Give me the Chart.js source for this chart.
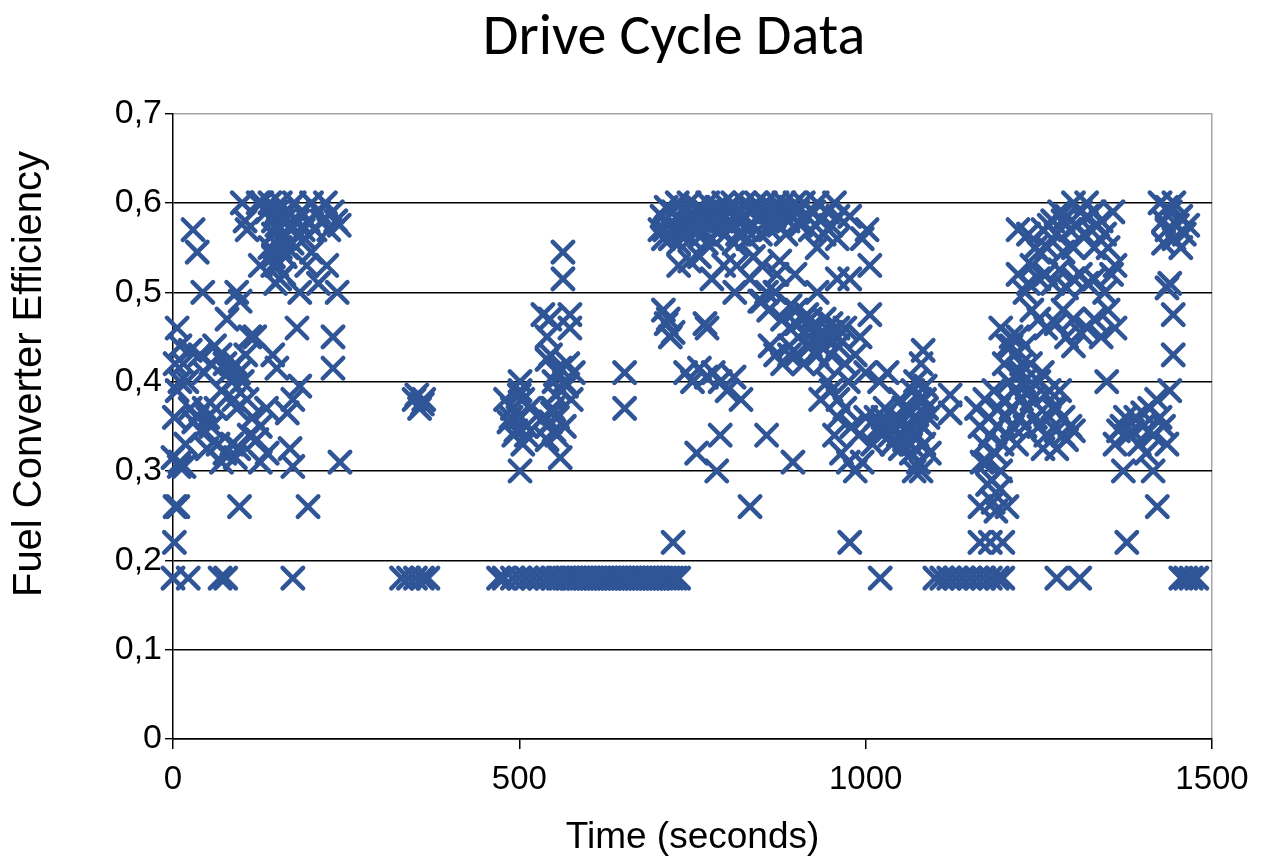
<!DOCTYPE html>
<html>
<head>
<meta charset="utf-8">
<title>Drive Cycle Data</title>
<script src="https://cdn.jsdelivr.net/npm/chart.js@4.4.1/dist/chart.umd.min.js"></script>
<style>
  html, body { margin: 0; padding: 0; background: #fff; }
  #wrap { width: 1261px; height: 861px; }
</style>
</head>
<body>
<div id="wrap"><canvas id="myChart"></canvas></div>
<script>
// idle samples sitting on the 0.18 floor
var idleTime = [
    0, 22, 68, 76, 173, 330, 340, 350, 360, 368,
    470, 478, 490, 500, 510, 520, 530, 540, 548, 556,
    565, 570, 575, 580, 585, 590, 595, 600, 605, 610,
    615, 620, 625, 630, 635, 640, 645, 650, 655, 660,
    665, 670, 675, 680, 685, 690, 695, 700, 705, 710,
    715, 720, 725, 730, 1021, 1100, 1110, 1120, 1130, 1140,
    1150, 1160, 1170, 1180, 1190, 1198, 1276, 1309, 1455, 1462,
    1470, 1478
];
var idleEff = [
    0.18, 0.18, 0.18, 0.18, 0.18, 0.18, 0.18, 0.18, 0.18, 0.18,
    0.18, 0.18, 0.18, 0.18, 0.18, 0.18, 0.18, 0.18, 0.18, 0.18,
    0.18, 0.18, 0.18, 0.18, 0.18, 0.18, 0.18, 0.18, 0.18, 0.18,
    0.18, 0.18, 0.18, 0.18, 0.18, 0.18, 0.18, 0.18, 0.18, 0.18,
    0.18, 0.18, 0.18, 0.18, 0.18, 0.18, 0.18, 0.18, 0.18, 0.18,
    0.18, 0.18, 0.18, 0.18, 0.18, 0.18, 0.18, 0.18, 0.18, 0.18,
    0.18, 0.18, 0.18, 0.18, 0.18, 0.18, 0.18, 0.18, 0.18, 0.18,
    0.18, 0.18
];

// everything else, time (s) and efficiency in the same order
var timeSec = [
    2, 3, 7, 9, 16, 96, 195,
    0, 10, 6, 10, 25, 39, 10, 6, 3, 2,
    29, 35, 43, 78, 68, 75, 80, 85, 90, 95,
    100, 70, 88, 105, 25, 35, 45, 55, 40, 30,
    50, 62, 92, 107, 126, 121, 65, 75, 85, 90,
    70, 95, 49, 136, 126, 173, 183, 165, 169, 173,
    179, 231, 231, 144, 150, 111, 241, 92, 97, 126,
    144, 154, 193, 222, 237, 183, 140, 145, 150, 155,
    160, 148, 162, 158, 152, 165, 100, 104, 128, 135,
    140, 145, 150, 155, 160, 165, 170, 175, 180, 185,
    190, 195, 200, 205, 210, 215, 220, 225, 230, 235,
    240, 158, 172, 188, 150, 145, 107, 123, 118, 60,
    15, 20, 18, 55, 45, 115, 110, 135, 200, 210,
    352, 360, 356, 348, 362,
    501, 501, 480, 490, 500, 510, 495, 485, 505, 492,
    515, 500, 488, 510, 501, 563, 563, 534, 573, 544,
    573, 540, 559, 545, 550, 555, 560, 565, 570, 575,
    568, 552, 578, 548, 540, 554, 559, 535, 545, 550,
    540, 555, 565, 548, 540, 652, 652, 722, 498, 505,
    703, 706, 708, 712, 715, 718, 722, 725, 728, 732,
    735, 738, 742, 745, 748, 752, 755, 758, 762, 765,
    768, 772, 775, 778, 782, 785, 788, 792, 795, 798,
    802, 805, 808, 812, 815, 818, 822, 825, 828, 832,
    835, 838, 842, 845, 848, 852, 855, 858, 862, 865,
    868, 872, 875, 878, 882, 885, 888, 892, 895, 898,
    902, 906, 910, 915, 920, 925, 930, 935, 940, 945,
    950, 955, 960, 710, 730, 750, 770, 790, 810, 830,
    746, 778, 811, 833, 850, 876, 898, 869, 847, 730,
    760, 795, 814, 838, 872, 857, 891, 915, 930, 959,
    977, 1006, 1006, 1002, 959, 930, 708, 712, 718, 715,
    722, 771, 740, 750, 760, 770, 780, 790, 800, 810,
    820, 790, 756, 785, 857, 895, 833, 977, 768,
    862, 870, 880, 890, 890, 900, 910, 920, 930, 940,
    950, 960, 970, 985, 1000, 850, 860, 870, 880, 890,
    900, 910, 920, 930, 940, 950, 960, 945, 900, 910,
    920, 930, 940, 950, 960, 970, 950, 960, 970, 980,
    990, 1000, 1010, 975, 985, 965, 995, 955, 1020, 945,
    935, 975, 960, 915, 935, 977, 995, 992, 1031, 1020,
    1015, 1022, 1028, 1033, 1038, 1042, 1047, 1050, 1053, 1056,
    1060, 1063, 1066, 1068, 1070, 1072, 1074, 1076, 1078, 1080,
    1082, 1084, 1086, 1088, 1083, 1070, 1080, 1090, 1092, 1060,
    1045, 1035, 1025, 1030, 1040, 1050, 1055, 1065, 1075, 1085,
    1122, 1122, 1184,
    1165, 1204, 1165, 1198, 1180, 1188, 1160, 1165, 1170, 1172,
    1175, 1178, 1180, 1182, 1185, 1187, 1190, 1192, 1195, 1197,
    1200, 1202, 1205, 1207, 1210, 1212, 1215, 1218, 1220, 1222,
    1225, 1228, 1230, 1233, 1235, 1168, 1176, 1194, 1200, 1210,
    1220, 1215, 1225, 1250, 1260, 1270, 1280, 1265, 1250, 1260,
    1275, 1285, 1295, 1300, 1290, 1276, 1256, 1240, 1245, 1238,
    1220, 1235, 1256, 1265, 1275, 1285, 1295, 1305, 1315, 1325,
    1335, 1345, 1300, 1310, 1290, 1280, 1320, 1330, 1270, 1340,
    1319, 1357, 1220, 1235, 1250, 1260, 1270, 1280, 1290, 1300,
    1310, 1320, 1330, 1345, 1355, 1240, 1250, 1260, 1275, 1285,
    1300, 1310, 1320, 1330, 1340, 1350, 1360, 1300, 1290, 1195,
    1205, 1215, 1225, 1210, 1230, 1255, 1265, 1275, 1285, 1348,
    1230, 1240, 1245, 1250, 1262, 1285, 1300, 1330, 1350, 1360,
    1360, 1370, 1380, 1390, 1400, 1410, 1420, 1425, 1415, 1395,
    1405, 1385, 1375, 1430, 1435, 1372, 1415, 1377, 1421, 1439,
    1425, 1430, 1435, 1440, 1445, 1450, 1455, 1460, 1430, 1445,
    1455, 1465, 1435, 1439, 1444, 1444, 1435, 1400, 1410, 1365
];
var efficiency = [
    0.22, 0.26, 0.26, 0.305, 0.305, 0.26, 0.26,
    0.315, 0.31, 0.46, 0.44, 0.435, 0.43, 0.40, 0.39, 0.42, 0.36,
    0.57, 0.545, 0.50, 0.47, 0.43, 0.42, 0.41, 0.40, 0.42, 0.41,
    0.40, 0.39, 0.38, 0.43, 0.37, 0.36, 0.37, 0.35, 0.345, 0.355,
    0.36, 0.37, 0.37, 0.38, 0.35, 0.335, 0.33, 0.32, 0.33, 0.315,
    0.31, 0.325, 0.325, 0.32, 0.31, 0.38, 0.395, 0.365, 0.325, 0.305,
    0.46, 0.45, 0.415, 0.43, 0.415, 0.45, 0.31, 0.50, 0.49, 0.53,
    0.53, 0.515, 0.53, 0.53, 0.50, 0.50, 0.55, 0.54, 0.53, 0.55,
    0.52, 0.51, 0.54, 0.56, 0.57, 0.55, 0.60, 0.58, 0.60, 0.59,
    0.60, 0.58, 0.59, 0.60, 0.58, 0.59, 0.57, 0.60, 0.58, 0.59,
    0.56, 0.58, 0.60, 0.57, 0.59, 0.58, 0.60, 0.57, 0.59, 0.58,
    0.575, 0.565, 0.555, 0.57, 0.575, 0.565, 0.57, 0.60, 0.45, 0.44,
    0.42, 0.40, 0.33, 0.42, 0.41, 0.36, 0.34, 0.37, 0.545, 0.51,
    0.385, 0.375, 0.37, 0.38, 0.38,
    0.40, 0.39, 0.38, 0.37, 0.36, 0.35, 0.345, 0.355, 0.33, 0.34,
    0.37, 0.385, 0.36, 0.34, 0.30, 0.545, 0.515, 0.475, 0.475, 0.47,
    0.46, 0.425, 0.415, 0.43, 0.40, 0.41, 0.39, 0.40, 0.42, 0.38,
    0.395, 0.385, 0.41, 0.365, 0.35, 0.34, 0.315, 0.36, 0.355, 0.345,
    0.335, 0.36, 0.35, 0.37, 0.45, 0.41, 0.37, 0.22, 0.36, 0.38,
    0.57, 0.585, 0.56, 0.595, 0.575, 0.56, 0.59, 0.57, 0.60, 0.58,
    0.565, 0.59, 0.575, 0.60, 0.56, 0.585, 0.57, 0.595, 0.58, 0.565,
    0.59, 0.60, 0.575, 0.56, 0.585, 0.595, 0.57, 0.58, 0.60, 0.565,
    0.59, 0.575, 0.60, 0.585, 0.565, 0.59, 0.58, 0.60, 0.57, 0.59,
    0.595, 0.575, 0.60, 0.585, 0.565, 0.59, 0.60, 0.58, 0.57, 0.595,
    0.585, 0.60, 0.575, 0.59, 0.60, 0.565, 0.58, 0.595, 0.585, 0.60,
    0.59, 0.575, 0.60, 0.585, 0.57, 0.59, 0.60, 0.58, 0.565, 0.59,
    0.575, 0.60, 0.585, 0.57, 0.555, 0.575, 0.555, 0.57, 0.555, 0.56,
    0.535, 0.515, 0.50, 0.515, 0.53, 0.535, 0.52, 0.50, 0.49, 0.53,
    0.54, 0.53, 0.53, 0.54, 0.52, 0.50, 0.485, 0.475, 0.50, 0.515,
    0.515, 0.475, 0.53, 0.57, 0.56, 0.55, 0.48, 0.465, 0.45, 0.47,
    0.455, 0.46, 0.41, 0.40, 0.415, 0.405, 0.41, 0.40, 0.39, 0.405,
    0.38, 0.34, 0.32, 0.30, 0.34, 0.31, 0.26, 0.22, 0.465,
    0.44, 0.43, 0.42, 0.43, 0.44, 0.43, 0.42, 0.44, 0.43, 0.42,
    0.43, 0.44, 0.42, 0.43, 0.41, 0.49, 0.48, 0.50, 0.47, 0.46,
    0.48, 0.47, 0.46, 0.45, 0.47, 0.465, 0.46, 0.45, 0.465, 0.455,
    0.47, 0.46, 0.45, 0.455, 0.45, 0.46, 0.39, 0.36, 0.37, 0.35,
    0.34, 0.36, 0.33, 0.31, 0.30, 0.32, 0.31, 0.34, 0.35, 0.40,
    0.38, 0.40, 0.38, 0.44, 0.44, 0.585, 0.56, 0.45, 0.41, 0.40,
    0.36, 0.345, 0.37, 0.35, 0.33, 0.36, 0.34, 0.38, 0.355, 0.335,
    0.37, 0.35, 0.32, 0.39, 0.36, 0.40, 0.34, 0.31, 0.38, 0.42,
    0.35, 0.33, 0.395, 0.37, 0.435, 0.30, 0.30, 0.36, 0.32, 0.345,
    0.355, 0.34, 0.36, 0.345, 0.35, 0.325, 0.37, 0.33, 0.355, 0.38,
    0.385, 0.365, 0.265,
    0.26, 0.26, 0.22, 0.22, 0.22, 0.255, 0.37, 0.35, 0.33, 0.38,
    0.31, 0.36, 0.34, 0.29, 0.39, 0.32, 0.35, 0.37, 0.30, 0.33,
    0.38, 0.36, 0.34, 0.40, 0.37, 0.35, 0.39, 0.33, 0.41, 0.36,
    0.38, 0.40, 0.35, 0.37, 0.39, 0.31, 0.285, 0.28, 0.42, 0.44,
    0.45, 0.43, 0.41, 0.40, 0.385, 0.37, 0.39, 0.36, 0.35, 0.34,
    0.345, 0.34, 0.35, 0.345, 0.335, 0.325, 0.325, 0.38, 0.36, 0.42,
    0.57, 0.565, 0.57, 0.575, 0.565, 0.58, 0.57, 0.575, 0.565, 0.57,
    0.575, 0.565, 0.60, 0.59, 0.585, 0.59, 0.585, 0.59, 0.58, 0.58,
    0.60, 0.59, 0.52, 0.51, 0.515, 0.52, 0.51, 0.525, 0.505, 0.515,
    0.52, 0.51, 0.515, 0.50, 0.52, 0.48, 0.47, 0.46, 0.465, 0.48,
    0.47, 0.455, 0.46, 0.47, 0.45, 0.48, 0.46, 0.44, 0.45, 0.46,
    0.44, 0.43, 0.42, 0.45, 0.44, 0.41, 0.39, 0.37, 0.36, 0.40,
    0.50, 0.53, 0.55, 0.545, 0.55, 0.545, 0.55, 0.55, 0.55, 0.53,
    0.33, 0.35, 0.34, 0.36, 0.35, 0.37, 0.38, 0.36, 0.34, 0.33,
    0.32, 0.345, 0.36, 0.35, 0.33, 0.30, 0.30, 0.22, 0.26, 0.39,
    0.60, 0.58, 0.57, 0.59, 0.56, 0.575, 0.585, 0.565, 0.555, 0.60,
    0.55, 0.575, 0.595, 0.51, 0.475, 0.43, 0.505, 0.365, 0.345, 0.345
];

var xTicks = [0, 500, 1000, 1500];
var yTicks = [0, 0.1, 0.2, 0.3, 0.4, 0.5, 0.6, 0.7];
var yTitleText = 'Fuel Converter Efficiency';

var markColor = '#2F5597';
var axisFont = "'Liberation Sans', Arial, sans-serif";

var points = [];
for (var i = 0; i < idleTime.length; i++) points.push({x: idleTime[i], y: idleEff[i]});
for (var j = 0; j < timeSec.length; j++) points.push({x: timeSec[j], y: efficiency[j]});

// rounded ends on the X marks, like the original
var roundCaps = {
    id: 'roundCaps',
    beforeDatasetsDraw: function (chart) {
        chart.ctx.lineCap = 'round';
    }
};

// the original title sits right of the canvas centre
var shiftTitle = {
    id: 'shiftTitle',
    afterLayout: function (chart) {
        var t = chart.titleBlock;
        t.left = 87;
        t.right = 1261;
        t.width = t.right - t.left;
    }
};

// y axis title, centred a bit above the plot middle as in the original
var yTitle = {
    id: 'yTitle',
    afterDraw: function (chart) {
        var c = chart.ctx;
        c.save();
        c.translate(30, 374);
        c.rotate(-Math.PI / 2);
        c.fillStyle = '#000';
        c.font = "40px 'Liberation Sans', Arial, sans-serif";
        c.textAlign = 'center';
        c.textBaseline = 'middle';
        c.fillText(yTitleText, 0, 0);
        c.restore();
    }
};

var ctx = document.getElementById('myChart').getContext('2d');
var myChart = new Chart(ctx, {
    type: 'scatter',
    data: {
        datasets: [{
            label: 'Efficiency',
            data: points,
            pointStyle: 'crossRot',
            pointRadius: 14.5,
            pointBorderWidth: 4.5,
            pointBorderColor: markColor,
            pointBackgroundColor: markColor,
            clip: false
        }]
    },
    plugins: [roundCaps, shiftTitle, yTitle],
    options: {
        responsive: true,
        maintainAspectRatio: false,
        animation: false,
        events: [],
        layout: {
            padding: {left: 0, right: 49, top: 0, bottom: 0}
        },
        plugins: {
            legend: {display: false},
            tooltip: {enabled: false},
            title: {
                display: true,
                text: 'Drive Cycle Data',
                color: '#000',
                font: {family: "Carlito, Lato, 'Open Sans', sans-serif", size: 58, weight: 'normal'},
                padding: {top: 5, bottom: 39}
            }
        },
        scales: {
            x: {
                type: 'linear',
                min: 0,
                max: 1500,
                afterFit: function (s) { s.height = 122; },
                afterBuildTicks: function (s) {
                    s.ticks = xTicks.map(function (v) { return {value: v}; });
                },
                ticks: {
                    color: '#000',
                    font: {family: axisFont, size: 33},
                    padding: 11,
                    maxRotation: 0,
                    callback: function (v) { return String(v); }
                },
                grid: {
                    color: function (c) { return c.tick && c.tick.value === 1500 ? '#a6a6a6' : 'rgba(0,0,0,0)'; },
                    tickColor: '#000',
                    tickLength: 10,
                    lineWidth: 1.5
                },
                border: {color: '#000', width: 1.5},
                title: {
                    display: true,
                    text: 'Time (seconds)',
                    color: '#000',
                    font: {family: axisFont, size: 37},
                    padding: {top: 0, bottom: 1}
                }
            },
            y: {
                min: 0,
                max: 0.7,
                afterFit: function (s) { s.width = 173; },
                afterBuildTicks: function (s) {
                    s.ticks = yTicks.map(function (v) { return {value: v}; });
                },
                ticks: {
                    color: '#000',
                    font: {family: axisFont, size: 34},
                    padding: 3,
                    callback: function (v) {
                        return (Math.round(v * 10) / 10).toString().replace('.', ',');
                    }
                },
                grid: {
                    color: function (c) {
                        return c.tick && Math.abs(c.tick.value - 0.7) < 1e-6 ? '#a6a6a6' : '#000';
                    },
                    tickColor: '#000',
                    tickLength: 8,
                    lineWidth: 1.4
                },
                border: {color: '#000', width: 1.5}
            }
        }
    }
});
</script>
</body>
</html>
